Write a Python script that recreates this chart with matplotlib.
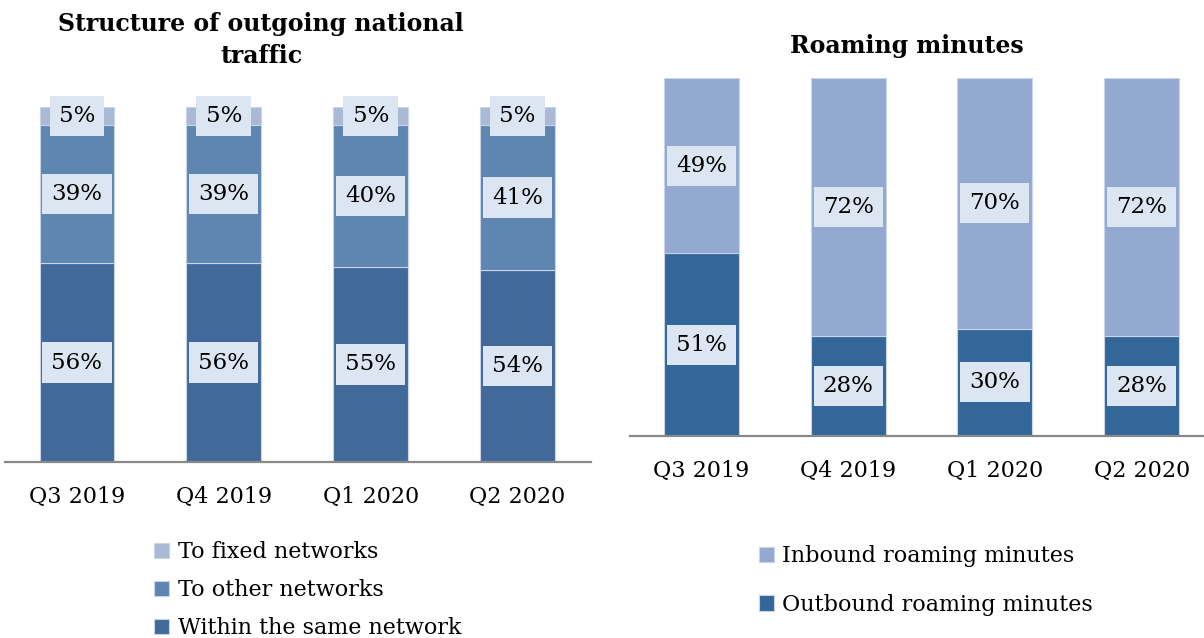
import matplotlib
matplotlib.use("Agg")
from matplotlib import pyplot as plt

plt.rcParams['font.family'] = ['DejaVu Serif']

# data
quarters = ['Q3 2019', 'Q4 2019', 'Q1 2020', 'Q2 2020']
same_net = [56, 56, 55, 54]
other_net = [39, 39, 40, 41]
fixed_net = [5, 5, 5, 5]
outbound = [51, 28, 30, 28]
inbound = [49, 72, 70, 72]

c_fixed = '#aab9d6'
c_other = '#5f86b1'
c_same = '#416a9a'
c_in = '#94a9d0'
c_out = '#336699'
box_col = '#dce6f2'
W, H = 1204, 638

fig = plt.figure(figsize=(W / 100, H / 100), dpi=100)
ax1 = fig.add_axes([5 / W, 176 / H, 586 / W, 355 / H])
ax2 = fig.add_axes([630 / W, 202 / H, 574 / W, 358 / H])


def style(ax, xl):
    for s in ['top', 'right', 'left']:
        ax.spines[s].set_visible(False)
    ax.spines['bottom'].set_color('#898989')
    ax.spines['bottom'].set_linewidth(1.6)
    ax.set_yticks([])
    ax.set_xticks(range(len(quarters)))
    ax.set_xticklabels(quarters, fontsize=16)
    ax.tick_params(axis='x', length=0, pad=17)
    ax.set_xlim(*xl)
    ax.set_ylim(0, 100)


def label(ax, x, bottom, v):
    ax.text(x, bottom + v / 2, '%d%%' % v, ha='center', va='center', fontsize=16.5,
            bbox=dict(boxstyle='square,pad=0.4', fc=box_col, ec='none'))


x = range(len(quarters))
bw = 0.51
ec = dict(edgecolor='#c9d4e7', linewidth=0.8)

# left chart - stacked
b1 = ax1.bar(x, same_net, bw, color=c_same, label='Within the same network', **ec)
bot2 = same_net
b2 = ax1.bar(x, other_net, bw, bottom=bot2, color=c_other, label='To other networks', **ec)
bot3 = [a + b for a, b in zip(same_net, other_net)]
b3 = ax1.bar(x, fixed_net, bw, bottom=bot3, color=c_fixed, label='To fixed networks', **ec)
for i in x:
    label(ax1, i, 0, same_net[i])
    label(ax1, i, bot2[i], other_net[i])
    label(ax1, i, bot3[i], fixed_net[i])
style(ax1, (-0.49, 3.5))

# right chart
r1 = ax2.bar(x, outbound, bw, color=c_out, label='Outbound roaming minutes', **ec)
r2 = ax2.bar(x, inbound, bw, bottom=outbound, color=c_in, label='Inbound roaming minutes', **ec)
for i in x:
    label(ax2, i, 0, outbound[i])
    label(ax2, i, outbound[i], inbound[i])
style(ax2, (-0.487, 3.425))

fig.text(261 / W, 1 - 12 / H, 'Structure of outgoing national\ntraffic', ha='center', va='top',
         fontsize=17, fontweight='bold', linespacing=1.4)
fig.text(907 / W, 1 - 46 / H, 'Roaming minutes', ha='center', va='center',
         fontsize=17, fontweight='bold')

fig.legend([b3, b2, b1], ['To fixed networks', 'To other networks', 'Within the same network'],
           loc='upper left', bbox_to_anchor=(154 / W, 1 - 541 / H), frameon=False, fontsize=16,
           handlelength=0.68, handleheight=0.68, handletextpad=0.4, labelspacing=0.72,
           borderpad=0, borderaxespad=0)
fig.legend([r2, r1], ['Inbound roaming minutes', 'Outbound roaming minutes'],
           loc='upper left', bbox_to_anchor=(759 / W, 1 - 545 / H), frameon=False, fontsize=16,
           handlelength=0.68, handleheight=0.68, handletextpad=0.35, labelspacing=1.2,
           borderpad=0, borderaxespad=0)

fig.savefig('out.png', dpi=100)
